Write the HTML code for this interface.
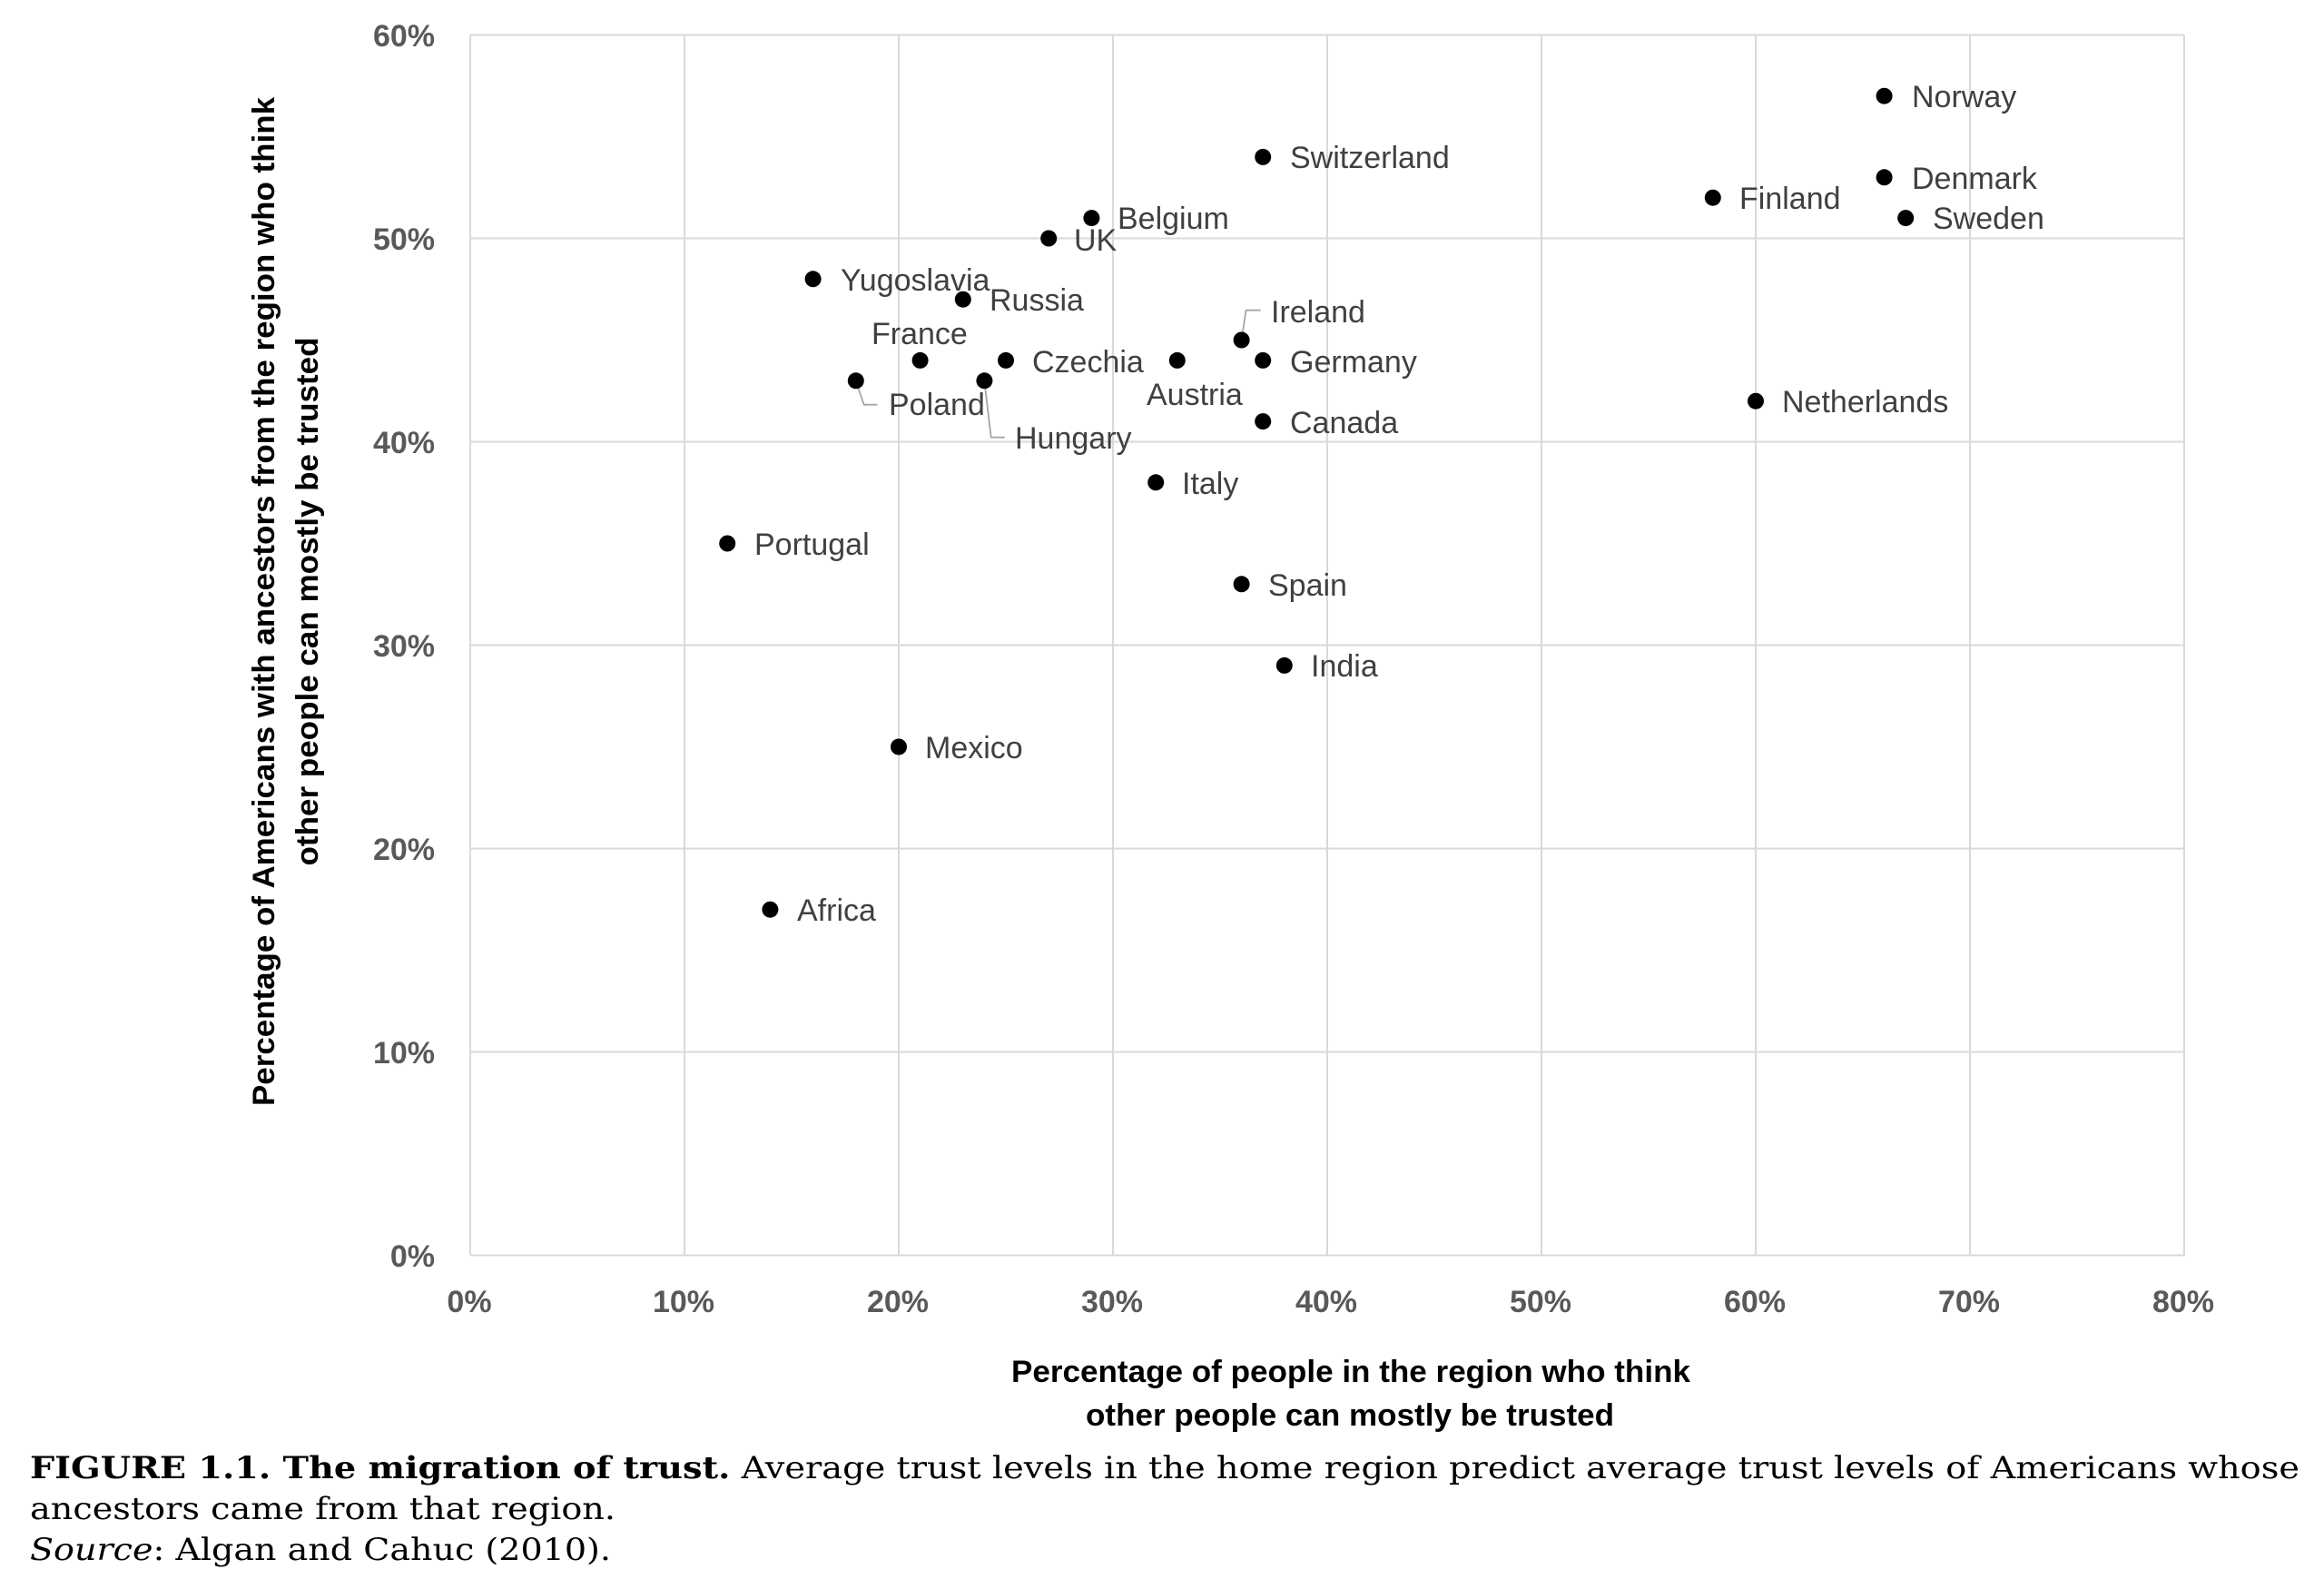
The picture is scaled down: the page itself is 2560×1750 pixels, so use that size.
<!DOCTYPE html>
<html>
<head>
<meta charset="utf-8">
<style>
  html,body{margin:0;padding:0;background:#fff;}
  svg{display:block;}
  .lbl{font-family:"Liberation Sans",sans-serif;font-size:34px;fill:#404040;}
  .tick{font-family:"Liberation Sans",sans-serif;font-size:34px;font-weight:bold;fill:#595959;}
  .ttl{font-family:"Liberation Sans",sans-serif;font-size:34px;font-weight:bold;fill:#000;}
  .cap{font-family:"DejaVu Serif","Liberation Serif",serif;font-size:34px;fill:#000;}
</style>
</head>
<body>
<svg width="2560" height="1750" viewBox="0 0 2560 1750" xmlns="http://www.w3.org/2000/svg">
  <rect width="2560" height="1750" fill="#fff"/>
  <!-- gridlines -->
  <g stroke="#d9d9d9" stroke-width="2" fill="none">
    <line x1="518" y1="1382.5" x2="2406" y2="1382.5"/>
    <line x1="518" y1="1158.5" x2="2406" y2="1158.5"/>
    <line x1="518" y1="934.5" x2="2406" y2="934.5"/>
    <line x1="518" y1="710.5" x2="2406" y2="710.5"/>
    <line x1="518" y1="486.5" x2="2406" y2="486.5"/>
    <line x1="518" y1="262.5" x2="2406" y2="262.5"/>
    <line x1="518" y1="38.5" x2="2406" y2="38.5"/>
    <line x1="518" y1="38.5" x2="518" y2="1382.5"/>
    <line x1="754" y1="38.5" x2="754" y2="1382.5"/>
    <line x1="990" y1="38.5" x2="990" y2="1382.5"/>
    <line x1="1226" y1="38.5" x2="1226" y2="1382.5"/>
    <line x1="1462" y1="38.5" x2="1462" y2="1382.5"/>
    <line x1="1698" y1="38.5" x2="1698" y2="1382.5"/>
    <line x1="1934" y1="38.5" x2="1934" y2="1382.5"/>
    <line x1="2170" y1="38.5" x2="2170" y2="1382.5"/>
    <line x1="2406" y1="38.5" x2="2406" y2="1382.5"/>
  </g>
  <!-- y ticks -->
  <g class="tick" text-anchor="end">
    <text x="479" y="1395">0%</text>
    <text x="479" y="1171">10%</text>
    <text x="479" y="947">20%</text>
    <text x="479" y="723">30%</text>
    <text x="479" y="499">40%</text>
    <text x="479" y="275">50%</text>
    <text x="479" y="51">60%</text>
  </g>
  <!-- x ticks -->
  <g class="tick" text-anchor="middle">
    <text x="517" y="1445">0%</text>
    <text x="753" y="1445">10%</text>
    <text x="989" y="1445">20%</text>
    <text x="1225" y="1445">30%</text>
    <text x="1461" y="1445">40%</text>
    <text x="1697" y="1445">50%</text>
    <text x="1933" y="1445">60%</text>
    <text x="2169" y="1445">70%</text>
    <text x="2405" y="1445">80%</text>
  </g>
  <!-- axis titles -->
  <text class="ttl" x="1114" y="1522" textLength="748" lengthAdjust="spacingAndGlyphs">Percentage of people in the region who think</text>
  <text class="ttl" x="1196" y="1570" textLength="582" lengthAdjust="spacingAndGlyphs">other people can mostly be trusted</text>
  <text class="ttl" transform="translate(302,1218) rotate(-90)" x="0" y="0" textLength="1111" lengthAdjust="spacingAndGlyphs">Percentage of Americans with ancestors from the region who think</text>
  <text class="ttl" transform="translate(350,953.5) rotate(-90)" x="0" y="0" textLength="582" lengthAdjust="spacingAndGlyphs">other people can mostly be trusted</text>

  <!-- leader lines -->
  <g stroke="#a6a6a6" stroke-width="1.8" fill="none">
    <polyline points="942.8,420 951.7,445.7 966.7,445.7"/>
    <polyline points="1084.4,420 1091.7,481.7 1106.7,481.7"/>
    <polyline points="1367.6,374 1372.6,341.7 1388.7,341.7"/>
  </g>

  <!-- dots -->
  <g fill="#000">
    <circle cx="2075.6" cy="105.7" r="9"/>
    <circle cx="1391.2" cy="172.9" r="9"/>
    <circle cx="2075.6" cy="195.3" r="9"/>
    <circle cx="1886.8" cy="217.7" r="9"/>
    <circle cx="1202.4" cy="240.1" r="9"/>
    <circle cx="2099.2" cy="240.1" r="9"/>
    <circle cx="1155.2" cy="262.5" r="9"/>
    <circle cx="895.6" cy="307.3" r="9"/>
    <circle cx="1060.8" cy="329.7" r="9"/>
    <circle cx="1367.6" cy="374.5" r="9"/>
    <circle cx="1013.6" cy="396.9" r="9"/>
    <circle cx="1108" cy="396.9" r="9"/>
    <circle cx="1296.8" cy="396.9" r="9"/>
    <circle cx="1391.2" cy="396.9" r="9"/>
    <circle cx="942.8" cy="419.3" r="9"/>
    <circle cx="1084.4" cy="419.3" r="9"/>
    <circle cx="1934" cy="441.7" r="9"/>
    <circle cx="1391.2" cy="464.1" r="9"/>
    <circle cx="1273.2" cy="531.3" r="9"/>
    <circle cx="801.2" cy="598.5" r="9"/>
    <circle cx="1367.6" cy="643.3" r="9"/>
    <circle cx="1414.8" cy="732.9" r="9"/>
    <circle cx="990" cy="822.5" r="9"/>
    <circle cx="848.4" cy="1001.7" r="9"/>
  </g>

  <!-- labels -->
  <g class="lbl">
    <text x="2106" y="118">Norway</text>
    <text x="1421" y="185">Switzerland</text>
    <text x="2106" y="208">Denmark</text>
    <text x="1916" y="230">Finland</text>
    <text x="1231" y="252">Belgium</text>
    <text x="2129" y="252">Sweden</text>
    <text x="1183" y="276">UK</text>
    <text x="926" y="320">Yugoslavia</text>
    <text x="1090" y="342">Russia</text>
    <text x="1400" y="355">Ireland</text>
    <text x="960" y="379">France</text>
    <text x="1137" y="410">Czechia</text>
    <text x="1263" y="446">Austria</text>
    <text x="1421" y="410">Germany</text>
    <text x="979" y="457">Poland</text>
    <text x="1118" y="494">Hungary</text>
    <text x="1963" y="454">Netherlands</text>
    <text x="1421" y="477">Canada</text>
    <text x="1302" y="544">Italy</text>
    <text x="831" y="611">Portugal</text>
    <text x="1397" y="656">Spain</text>
    <text x="1444" y="745">India</text>
    <text x="1019" y="835">Mexico</text>
    <text x="878" y="1014">Africa</text>
  </g>

  <!-- caption -->
  <text class="cap" x="33" y="1628" textLength="2500" lengthAdjust="spacingAndGlyphs"><tspan font-weight="bold">FIGURE 1.1. The migration of trust.</tspan> Average trust levels in the home region predict average trust levels of Americans whose</text>
  <text class="cap" x="33" y="1673" textLength="645" lengthAdjust="spacingAndGlyphs">ancestors came from that region.</text>
  <text class="cap" x="33" y="1718" textLength="640" lengthAdjust="spacingAndGlyphs"><tspan font-style="italic">Source</tspan>: Algan and Cahuc (2010).</text>
</svg>
</body>
</html>
